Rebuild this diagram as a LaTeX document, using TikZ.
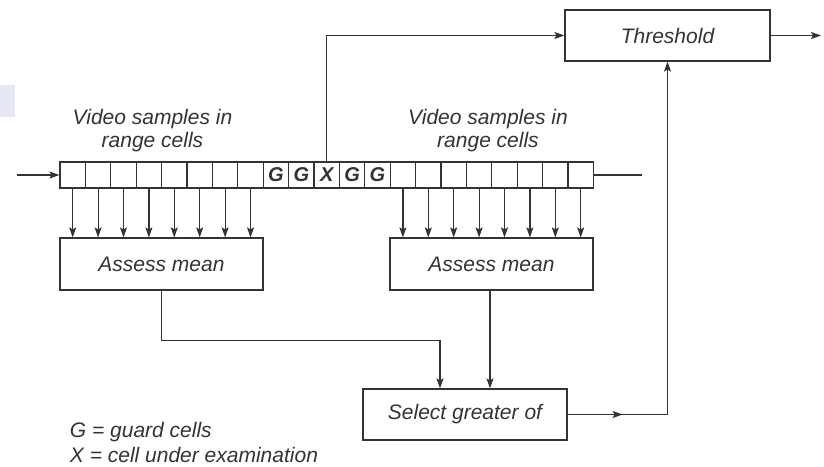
\documentclass[tikz,border=0pt]{standalone}
\usepackage{fontspec}
\setmainfont{Liberation Sans}
\usetikzlibrary{arrows.meta}
\definecolor{ink}{HTML}{333333}
\definecolor{patch}{HTML}{E6E8F8}

\begin{document}
\begin{tikzpicture}[x=1pt,y=-1pt,>={Stealth[length=10pt,width=7pt,inset=2pt]},
  color=ink,line width=1.2pt,
  txt/.style={font=\fontsize{21}{23}\selectfont\itshape},
  cell/.style={draw,minimum width=25.4pt,minimum height=26pt,inner sep=0pt},
  tag/.style={font=\fontsize{20}{22}\selectfont\bfseries\itshape},
  blk/.style={draw,rectangle,minimum height=52pt,txt}]
\useasboundingbox (0,0) rectangle (824,466);
\fill[patch] (0,85) rectangle (15,117);
% range cells
\foreach \i in {1,...,21} {
\node[cell] (c\i) at ({60+25.4*(\i-0.5)},175) {};
}
\node[tag] at (c9) {G};
\node[tag] at (c10) {G};
\node[tag] at (c11) {X};
\node[tag] at (c12) {G};
\node[tag] at (c13) {G};
\node[txt,align=center] (lvid) at (152.5,131) {Video samples in\\range cells};
\node[txt,align=center] (rvid) at (488,131) {Video samples in\\range cells};
% blocks
\node[blk,minimum width=203pt] (lmean) at (161.5,264) {Assess mean};
\node[blk,minimum width=203pt] (rmean) at (491.5,264) {Assess mean};
\node[blk,minimum width=204pt,minimum height=51pt] (select) at (465,414.5) {Select greater of};
\node[blk,minimum width=205pt,minimum height=51pt] (thresh) at (667.5,35.5) {Threshold};
\coordinate (in) at (17,175);
\coordinate (end) at (642,175);
\coordinate (out) at (821,35.5);
\draw[->] (in) -- (c1.west);
\draw (c21.east) -- (end);
\foreach \i in {1,...,8} {
\draw[->] (c\i.south) -- (c\i.south |- lmean.north);
}
\foreach \i in {14,...,21} {
\draw[->] (c\i.south) -- (c\i.south |- rmean.north);
}
\draw[->] (c11.north) |- (thresh.west);
\draw[->] (thresh.east) -- (out);
\draw[->] (lmean.south) -- ++(0,50) -| ([xshift=-25pt]select.north);
\draw[->] ([xshift=25pt]select.north |- rmean.south) -- ([xshift=25pt]select.north);
\draw[->] (select.east) -- ++(55,0);
\draw[->] (select.east) -| (thresh.south);
% legend
\node[txt,anchor=west] (gkey) at (66,432) {G = guard cells};
\node[txt,anchor=west] (xkey) at (66,455) {X = cell under examination};
\end{tikzpicture}
\end{document}
